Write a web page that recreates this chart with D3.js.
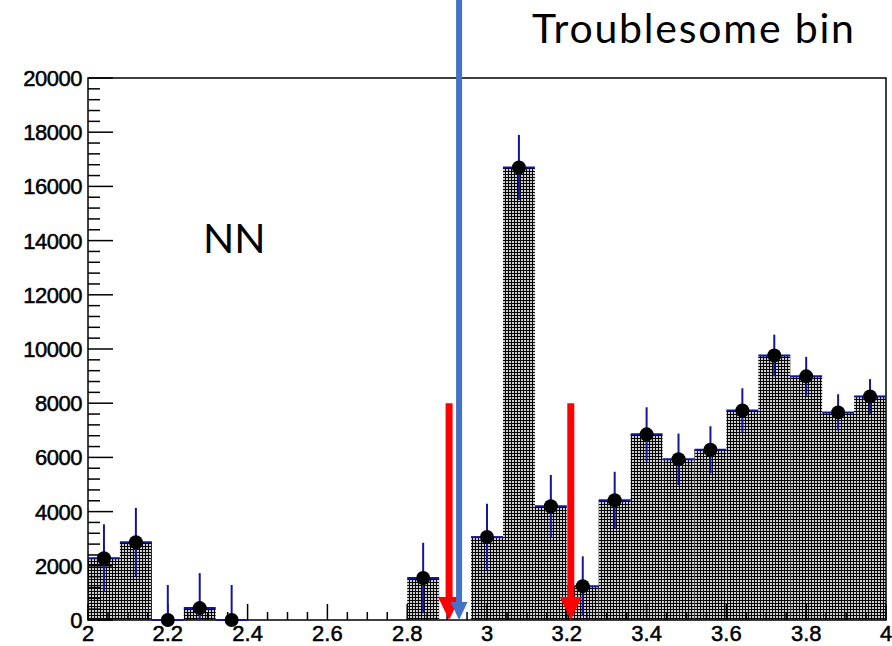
<!DOCTYPE html>
<html>
<head>
<meta charset="utf-8">
<script src="https://cdn.jsdelivr.net/npm/d3@7"></script>
<style>
  body { margin: 0; background: #fff; }
  svg { display: block; }
</style>
</head>
<body>
<div id="chart"></div>
<script>
// bin centres (width 0.08) from 2.0 to 4.0
const binEdges = d3.range(0, 26).map(i => 2 + i * 0.08)
// counts per bin, null = empty bin with no data point
const counts = [2280, 2870, 0, 440, 0, null, null, null, null, null,
    1550, null, 3060, 16700, 4200, 1250, 4420, 6850, 5930, 6280,
    7730, 9760, 8990, 7660, 8250]
const errors = [1250, 1270, 1290, 1290, 1290, 0, 0, 0, 0, 0,
    1300, 0, 1230, 1200, 1150, 1100, 1050, 1000, 950, 870,
    820, 770, 720, 670, 640]
const xTicks = [2, 2.2, 2.4, 2.6, 2.8, 3, 3.2, 3.4, 3.6, 3.8, 4]
const yTicks = [0, 2000, 4000, 6000, 8000, 10000, 12000, 14000, 16000, 18000, 20000]
// cut positions shown with arrows
const redCuts = [2.905, 3.21]
const redTop = 8000
const blueCut = 2.93

const W = 892, H = 646
const margin = { top: 78, right: 6, bottom: 26, left: 88 }
const width = W - margin.left - margin.right,
    height = H - margin.top - margin.bottom

const svgRoot = d3.select('#chart')
    .append('svg')
    .attr('width', W)
    .attr('height', H)

const defs = svgRoot.append('defs')
const pat = defs.append('pattern')
    .attr('id', 'mesh')
    .attr('width', 3).attr('height', 3)
    .attr('patternUnits', 'userSpaceOnUse')
pat.append('rect').attr('width', 3).attr('height', 3).attr('fill', '#000')
pat.append('rect').attr('x', 1.1).attr('y', 1.1).attr('width', 1.8).attr('height', 1.8).attr('fill', '#fff')

const svg = svgRoot.append('g')
    .attr('transform', 'translate(' + margin.left + ',' + margin.top + ')')

const x = d3.scaleLinear().domain([2, 4]).range([0, width])
const y = d3.scaleLinear().domain([0, 20000]).range([height, 0])

const bins = counts.map((c, i) => ({ x0: binEdges[i], x1: binEdges[i + 1], v: c, e: errors[i] }))
const filled = bins.filter(d => d.v !== null)

// histogram bars
svg.selectAll('rect.bar')
    .data(filled)
    .enter()
    .append('rect')
    .attr('class', 'bar')
    .attr('x', d => x(d.x0))
    .attr('y', d => y(d.v))
    .attr('width', d => x(d.x1) - x(d.x0))
    .attr('height', d => height - y(d.v))
    .attr('fill', 'url(#mesh)')

// frame
svg.append('rect')
    .attr('width', width).attr('height', height)
    .attr('fill', 'none').attr('stroke', '#000').attr('stroke-width', 1.5)

// x axis ticks (inward)
const xMinor = d3.range(2, 4.0001, 0.05)
svg.append('g')
    .selectAll('line')
    .data(xMinor)
    .enter()
    .append('line')
    .attr('x1', d => x(d)).attr('x2', d => x(d))
    .attr('y1', height)
    .attr('y2', (d, i) => height - (i % 4 === 0 ? 16 : 8))
    .attr('stroke', '#000').attr('stroke-width', 1.5)

svg.append('g')
    .selectAll('text')
    .data(xTicks)
    .enter()
    .append('text')
    .attr('x', d => x(d))
    .attr('y', height + 21)
    .attr('text-anchor', 'middle')
    .style('font-family', 'Liberation Sans, Arial, sans-serif')
    .style('font-size', '22px')
    .style('stroke', '#000').style('stroke-width', 0.5)
    .text(d => d3.format('~g')(d))

// y axis ticks (inward)
const yMinor = d3.range(0, 20001, 400)
svg.append('g')
    .selectAll('line')
    .data(yMinor)
    .enter()
    .append('line')
    .attr('y1', d => y(d)).attr('y2', d => y(d))
    .attr('x1', 0)
    .attr('x2', (d, i) => i % 5 === 0 ? 25 : 12)
    .attr('stroke', '#000').attr('stroke-width', 1.5)

svg.append('g')
    .selectAll('text')
    .data(yTicks)
    .enter()
    .append('text')
    .attr('x', -6)
    .attr('y', d => y(d))
    .attr('dy', '0.36em')
    .attr('text-anchor', 'end')
    .style('font-family', 'Liberation Sans, Arial, sans-serif')
    .style('font-size', '22px')
    .style('letter-spacing', '-0.5px')
    .style('stroke', '#000').style('stroke-width', 0.5)
    .text(d => d)

// error bars: horizontal bin-width line + vertical error
const errCol = '#14149c'
const eg = svg.append('g')
eg.selectAll('line.h')
    .data(filled)
    .enter()
    .append('line')
    .attr('x1', d => x(d.x0)).attr('x2', d => x(d.x1))
    .attr('y1', d => y(d.v)).attr('y2', d => y(d.v))
    .attr('stroke', errCol).attr('stroke-width', 2)
eg.selectAll('line.v')
    .data(filled)
    .enter()
    .append('line')
    .attr('x1', d => x((d.x0 + d.x1) / 2)).attr('x2', d => x((d.x0 + d.x1) / 2))
    .attr('y1', d => y(d.v + d.e)).attr('y2', d => y(Math.max(0, d.v - d.e)))
    .attr('stroke', errCol).attr('stroke-width', 2)

svg.append('g')
    .selectAll('circle')
    .data(filled)
    .enter()
    .append('circle')
    .attr('cx', d => x((d.x0 + d.x1) / 2))
    .attr('cy', d => y(d.v))
    .attr('r', 7)
    .attr('fill', '#000')

// arrows
function arrow(g, xv, yTop, color, lw, headW, headH) {
    const cx = x(xv), tip = y(0)
    g.append('line')
        .attr('x1', cx).attr('x2', cx)
        .attr('y1', yTop).attr('y2', tip - headH + 1)
        .attr('stroke', color).attr('stroke-width', lw)
    g.append('path')
        .attr('d', 'M' + (cx - headW / 2) + ',' + (tip - headH) + 'L' + (cx + headW / 2) + ',' + (tip - headH) + 'L' + cx + ',' + tip + 'Z')
        .attr('fill', color)
}
const ag = svg.append('g')
redCuts.forEach(c => arrow(ag, c, y(redTop), '#ff0000', 7, 22, 23))
arrow(ag, blueCut, -margin.top, '#4472c4', 6, 17, 18)

// labels
svgRoot.append('text')
    .attr('x', 203).attr('y', 253)
    .style('font-family', 'Lato, Calibri, sans-serif')
    .style('font-size', '41px')
    .text('NN')

svgRoot.append('text')
    .attr('x', 532).attr('y', 43)
    .style('font-family', 'Lato, Calibri, sans-serif')
    .style('font-size', '41px')
    .style('letter-spacing', '1.8px')
    .text('Troublesome bin')
</script>
</body>
</html>
